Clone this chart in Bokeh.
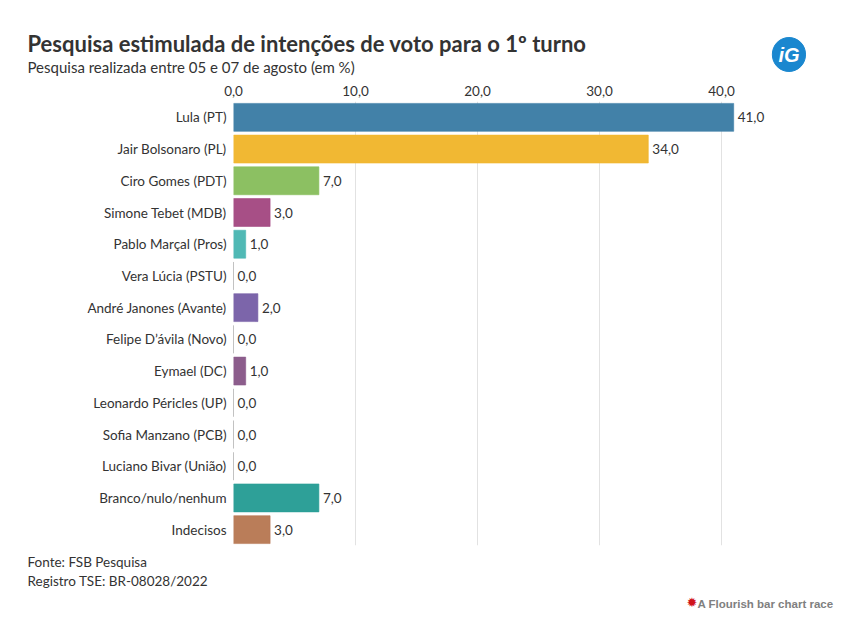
from bokeh.plotting import figure
from bokeh.models import ColumnDataSource, FactorRange, LabelSet, FixedTicker, LinearAxis, Range1d, Title
from bokeh.embed import file_html
from bokeh.resources import INLINE
from bokeh.core.properties import value

FONT = "Lato"

names = ["Lula (PT)", "Jair Bolsonaro (PL)", "Ciro Gomes (PDT)", "Simone Tebet (MDB)",
         "Pablo Marçal (Pros)", "Vera Lúcia (PSTU)", "André Janones (Avante)",
         "Felipe D’ávila (Novo)", "Eymael (DC)", "Leonardo Péricles (UP)",
         "Sofia Manzano (PCB)", "Luciano Bivar (União)", "Branco/nulo/nenhum", "Indecisos"]
values = [41.0, 34.0, 7.0, 3.0, 1.0, 0.0, 2.0, 0.0, 1.0, 0.0, 0.0, 0.0, 7.0, 3.0]
colors = ["#3e7ea6", "#f1b72f", "#8abf5f", "#a54b84", "#4db8b4", "#888888", "#7962a8",
          "#888888", "#8a5a8a", "#888888", "#888888", "#888888", "#2a9e96", "#b97a56"]
ticks = [0, 10, 20, 30, 40]
tick_labels = ["0,0", "10,0", "20,0", "30,0", "40,0"]

title = "Pesquisa estimulada de intenções de voto para o 1º turno"
subtitle = "Pesquisa realizada entre 05 e 07 de agosto (em %)"
source_note = "Fonte: FSB Pesquisa"
registry_note = "Registro TSE: BR-08028/2022"
credit = "A Flourish bar chart race"

src = ColumnDataSource(dict(
    name=names, val=values, color=colors,
    lab=[f"{v:.1f}".replace(".", ",") for v in values],
))

p = figure(width=850, height=634, output_backend="svg", toolbar_location=None,
           y_range=FactorRange(factors=list(reversed(names)), range_padding=0),
           x_range=Range1d(0, 50), x_axis_location=None,
           min_border_left=233, min_border_right=7, min_border_top=101, min_border_bottom=89)
p.outline_line_color = None
p.background_fill_color = "white"
p.border_fill_color = "white"

p.hbar(y="name", right="val", left=0, height=0.88, fill_color="color", line_color="color",
       fill_alpha=0.98, line_alpha=0.6, source=src)

labels = LabelSet(x="val", y="name", text="lab", source=src, x_offset=4,
                  text_baseline="middle", text_font=value(FONT), text_font_size="13.5px",
                  text_color="#333333")
p.add_layout(labels)

top = LinearAxis(ticker=FixedTicker(ticks=ticks))
top.major_label_overrides = {t: l for t, l in zip(ticks, tick_labels)}
top.axis_line_color = None
top.major_tick_line_color = None
top.minor_tick_line_color = None
top.major_label_text_font = FONT
top.major_label_text_font_size = "13.5px"
top.major_label_text_color = "#333333"
top.major_label_standoff = 0
p.add_layout(top, "above")

p.xgrid.ticker = FixedTicker(ticks=ticks)
p.xgrid.grid_line_color = "#e2e2e2"
p.ygrid.grid_line_color = None

ya = p.yaxis[0]
ya.axis_line_color = None
ya.major_tick_line_color = None
ya.minor_tick_line_color = None
ya.major_label_text_font = FONT
ya.major_label_text_font_size = "13.5px"
ya.major_label_text_color = "#333333"
ya.major_label_standoff = 1

def mk(text, size, color="#333333", style="normal", font=FONT, align="left", offset=-206,
       standoff=0, valign="bottom"):
    return Title(text=text, text_font=font, text_font_size=size, text_color=color,
                 text_font_style=style, align=align, offset=offset, standoff=standoff,
                 vertical_align=valign)

p.add_layout(mk(subtitle, "15px", standoff=14), "above")
logo = mk("iG", "20px", color="white", style="bold italic", font="Liberation Sans",
          align="right", offset=38, standoff=-46)
logo.background_fill_color = "#1a87cf"
logo.border_line_color = "#1a87cf"
logo.padding = 6
logo.border_radius = 17
p.add_layout(logo, "above")
p.add_layout(mk(title, "22px", style="bold", standoff=-16), "above")

p.add_layout(mk(source_note, "13.5px", standoff=13), "below")
p.add_layout(mk(registry_note, "13.5px", standoff=-11), "below")
p.add_layout(mk(credit, "11.5px", color="#808080", style="bold", font="Liberation Sans",
                align="right", offset=10, standoff=25), "below")
p.add_layout(mk("✹", "13px", color="#d0131b", font="DejaVu Sans",
                align="right", offset=146, standoff=-55, valign="top"), "below")

open("out.html", "w").write(file_html(p, INLINE))
